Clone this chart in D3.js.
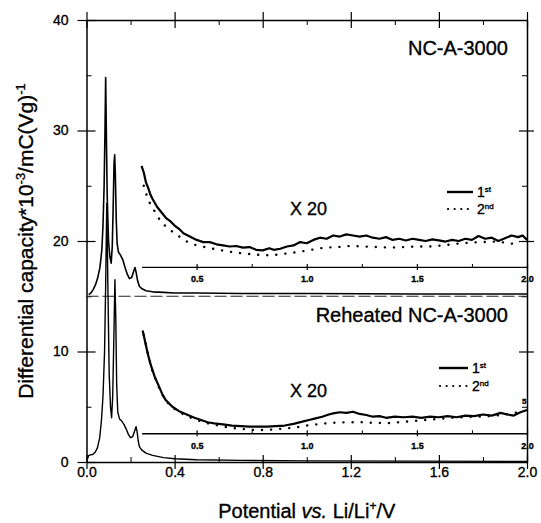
<!DOCTYPE html>
<html>
<head>
<meta charset="utf-8">
<script src="https://d3js.org/d3.v7.min.js"></script>
<style>
  body { margin: 0; background: #fff; }
  text { font-family: Arial, "Liberation Sans", sans-serif; fill: #000; stroke: #000; stroke-width: 0.35px; }
</style>
</head>
<body>
<script>
// axis ticks
const xMajor = [0, 0.4, 0.8, 1.2, 1.6, 2.0];
const xMinor = [0.2, 0.6, 1.0, 1.4, 1.8];
const yMajor = [0, 10, 20, 30, 40];
const yMinor = [5, 15, 25, 35];
const insetMajor = [0.5, 1.0, 1.5, 2.0];
const insetMinor = [0.75, 1.25, 1.75];
const panelNames = ["NC-A-3000", "Reheated NC-A-3000"];
const insetBase = [17.65, 2.6];     // where the x20 inset axes sit
const offsetLine = 15;              // dashed baseline of the shifted upper curve

// NC-A-3000, shifted up by 15
const ncX = [0.01, 0.02, 0.03, 0.04, 0.05, 0.06, 0.065, 0.07, 0.075, 0.08, 0.084, 0.087, 0.09, 0.094, 0.1, 0.106, 0.112,
  0.117, 0.121, 0.125, 0.128, 0.131, 0.135, 0.139, 0.145, 0.155, 0.165, 0.175, 0.185, 0.195, 0.205, 0.215, 0.22, 0.225,
  0.232, 0.24, 0.25, 0.27, 0.3, 0.35, 0.4, 0.5, 0.7, 1.0, 1.5, 2.0];
const ncY = [15.15, 15.3, 15.6, 16.0, 16.6, 17.5, 18.3, 19.3, 21.5, 25, 30, 34.8, 30, 24, 20, 18.6, 18.0,
  19.5, 23, 27, 27.8, 26, 22, 19.8, 19.0, 18.7, 18.3, 17.6, 17.0, 16.6, 16.7, 17.3, 17.6, 17.2,
  16.4, 15.9, 15.7, 15.5, 15.4, 15.35, 15.3, 15.3, 15.25, 15.25, 15.2, 15.2];

// Reheated NC-A-3000
const rhX = [0.005, 0.01, 0.02, 0.03, 0.04, 0.05, 0.06, 0.068, 0.075, 0.082, 0.087, 0.092, 0.097, 0.103, 0.109, 0.114,
  0.119, 0.124, 0.129, 0.133, 0.137, 0.142, 0.15, 0.16, 0.17, 0.18, 0.19, 0.2, 0.21, 0.22, 0.225, 0.23, 0.235, 0.24,
  0.25, 0.27, 0.3, 0.35, 0.4, 0.5, 0.7, 1.0, 1.5, 2.0];
const rhY = [0.3, 0.6, 0.65, 0.7, 0.9, 1.3, 2.2, 3.8, 6, 10, 16, 23.4, 16, 8, 5, 4.0,
  6, 11, 16.5, 13, 7, 4.5, 3.9, 3.7, 3.4, 3.0, 2.5, 2.2, 2.3, 2.9, 3.2, 2.7, 1.9, 1.4,
  1.1, 0.8, 0.6, 0.4, 0.3, 0.2, 0.15, 0.1, 0.08, 0.05];

// x20 insets, as plotted on the main axis
const ncIn1X = [0.25, 0.26, 0.27, 0.28, 0.29, 0.30, 0.32, 0.34, 0.36, 0.38, 0.40, 0.42, 0.44, 0.46, 0.48, 0.50, 0.53, 0.56,
  0.59, 0.62, 0.65, 0.68, 0.71, 0.74, 0.77, 0.80, 0.83, 0.85, 0.88, 0.91, 0.94, 0.97, 1.00, 1.03, 1.06, 1.09, 1.12, 1.15,
  1.18, 1.21, 1.24, 1.27, 1.30, 1.33, 1.36, 1.39, 1.42, 1.45, 1.48, 1.51, 1.54, 1.57, 1.60, 1.63, 1.66, 1.69, 1.72, 1.75,
  1.78, 1.81, 1.84, 1.87, 1.90, 1.93, 1.96, 1.98, 2.00];
const ncIn1Y = [26.8, 26.2, 25.3, 24.8, 24.2, 23.8, 23.1, 22.6, 22.1, 21.8, 21.4, 21.1, 20.7, 20.5, 20.3, 20.1, 19.9, 19.9,
  19.7, 19.6, 19.5, 19.55, 19.4, 19.45, 19.2, 19.15, 19.35, 19.2, 19.3, 19.5, 19.6, 19.9, 19.8, 20.1, 20.3, 20.2, 20.5, 20.4,
  20.6, 20.5, 20.4, 20.5, 20.3, 20.2, 20.35, 20.1, 20.2, 20.05, 20.2, 20.1, 20.0, 20.15, 20.05, 19.95, 20.1, 20.0, 20.2, 20.1,
  20.45, 20.2, 20.3, 20.0, 20.25, 20.5, 20.35, 20.5, 20.1];
const ncIn2X = [0.26, 0.28, 0.30, 0.33, 0.36, 0.40, 0.45, 0.50, 0.55, 0.60, 0.66, 0.72, 0.78, 0.84, 0.90, 0.96, 1.02, 1.08,
  1.14, 1.20, 1.26, 1.32, 1.38, 1.44, 1.50, 1.56, 1.62, 1.68, 1.74, 1.80, 1.86, 1.92, 1.97];
const ncIn2Y = [25.0, 23.7, 23.0, 22.0, 21.3, 20.7, 20.0, 19.6, 19.4, 19.2, 19.0, 18.85, 18.75, 18.7, 18.85, 19.0, 19.2, 19.4,
  19.45, 19.55, 19.5, 19.45, 19.4, 19.45, 19.5, 19.5, 19.6, 19.75, 19.85, 19.9, 19.95, 19.8, 19.65];

const rhIn1X = [0.255, 0.265, 0.277, 0.29, 0.30, 0.31, 0.33, 0.345, 0.36, 0.375, 0.39, 0.42, 0.455, 0.49, 0.52, 0.55, 0.58,
  0.62, 0.66, 0.70, 0.74, 0.78, 0.82, 0.86, 0.90, 0.94, 0.98, 1.01, 1.04, 1.07, 1.10, 1.12, 1.15, 1.18, 1.21, 1.24, 1.27,
  1.30, 1.33, 1.36, 1.40, 1.44, 1.48, 1.52, 1.56, 1.60, 1.64, 1.68, 1.72, 1.76, 1.80, 1.84, 1.88, 1.91, 1.94, 1.97, 2.00];
const rhIn1Y = [11.9, 11.0, 9.9, 8.9, 8.3, 7.7, 6.8, 6.1, 5.6, 5.3, 5.0, 4.6, 4.3, 4.0, 3.8, 3.6, 3.5,
  3.4, 3.3, 3.25, 3.2, 3.2, 3.2, 3.25, 3.3, 3.45, 3.65, 3.8, 3.95, 4.1, 4.3, 4.4, 4.5, 4.45, 4.55, 4.35, 4.25,
  4.1, 4.15, 4.0, 4.1, 4.05, 4.1, 4.0, 4.1, 4.05, 4.15, 4.05, 4.2, 4.15, 4.3, 4.2, 4.45, 4.3, 4.2, 4.5, 4.7];
const rhIn2X = [0.26, 0.28, 0.30, 0.325, 0.35, 0.375, 0.40, 0.45, 0.50, 0.55, 0.60, 0.65, 0.70, 0.76, 0.82, 0.88, 0.94,
  1.00, 1.06, 1.12, 1.18, 1.24, 1.30, 1.36, 1.42, 1.48, 1.54, 1.60, 1.66, 1.72, 1.78, 1.84, 1.90, 1.96];
const rhIn2Y = [11.5, 9.7, 8.2, 6.9, 5.9, 5.2, 4.8, 4.2, 3.8, 3.5, 3.3, 3.1, 3.0, 2.9, 2.9, 3.0, 3.1,
  3.3, 3.45, 3.55, 3.6, 3.6, 3.55, 3.5, 3.6, 3.7, 3.8, 3.9, 4.0, 4.05, 4.1, 4.15, 4.3, 4.5];

const width = 541, height = 523;
const x = d3.scaleLinear().domain([0, 2]).range([86.5, 527]);
const y = d3.scaleLinear().domain([0, 40]).range([462, 20]);

const svg = d3.select("body").append("svg")
    .attr("width", width)
    .attr("height", height);

function plain(g, size) {
  g.attr("font-family", null).attr("font-size", size);
  g.selectAll("path.domain").attr("stroke-width", 1.5);
  g.selectAll(".tick line").attr("stroke-width", 1.2);
}

// bottom
svg.append("g")
    .attr("transform", `translate(0,${y(0)})`)
    .call(d3.axisBottom(x).tickValues(xMajor).tickFormat(d3.format(".1f")).tickSizeInner(7).tickSizeOuter(0).tickPadding(-2))
    .call(g => g.selectAll(".tick line").attr("y1", -7))
    .call(g => plain(g, 14));
svg.append("g")
    .attr("transform", `translate(0,${y(0)})`)
    .call(d3.axisTop(x).tickValues(xMinor).tickFormat("").tickSizeInner(5).tickSizeOuter(0))
    .call(g => g.select(".domain").remove());

// top
svg.append("g")
    .attr("transform", `translate(0,${y(40)})`)
    .call(d3.axisTop(x).tickValues(xMajor).tickFormat("").tickSizeInner(8).tickSizeOuter(0))
    .call(g => g.selectAll(".tick line").attr("y1", 8))
    .call(g => plain(g, 14));
svg.append("g")
    .attr("transform", `translate(0,${y(40)})`)
    .call(d3.axisBottom(x).tickValues(xMinor).tickFormat("").tickSizeInner(5).tickSizeOuter(0))
    .call(g => g.select(".domain").remove());

// left
svg.append("g")
    .attr("transform", `translate(${x(0)},0)`)
    .call(d3.axisLeft(y).tickValues(yMajor).tickSizeInner(9).tickSizeOuter(0).tickPadding(9))
    .call(g => g.selectAll(".tick line").attr("x1", 9))
    .call(g => plain(g, 14));
svg.append("g")
    .attr("transform", `translate(${x(0)},0)`)
    .call(d3.axisRight(y).tickValues(yMinor).tickFormat("").tickSizeInner(5).tickSizeOuter(0))
    .call(g => g.select(".domain").remove());

// right
svg.append("g")
    .attr("transform", `translate(${x(2)},0)`)
    .call(d3.axisRight(y).tickValues(yMajor.slice(1, 4)).tickFormat("").tickSizeInner(7).tickSizeOuter(0))
    .call(g => g.selectAll(".tick line").attr("x1", -8))
    .call(g => plain(g, 14));
svg.append("g")
    .attr("transform", `translate(${x(2)},0)`)
    .call(d3.axisLeft(y).tickValues(yMinor).tickFormat("").tickSizeInner(5).tickSizeOuter(0))
    .call(g => g.select(".domain").remove());

// inset axes (x20 curves)
const xi = x.copy().domain([0.25, 2]).range([x(0.25), x(2)]);
insetBase.forEach(b => {
  svg.append("g")
      .attr("transform", `translate(0,${y(b)})`)
      .call(d3.axisBottom(xi).tickValues(insetMajor).tickFormat(d3.format(".1f")).tickSizeInner(3).tickSizeOuter(0).tickPadding(6))
      .call(g => g.selectAll(".tick line").attr("y1", -3))
      .call(g => { plain(g, 9); g.selectAll("path.domain").attr("stroke-width", 1.3); g.selectAll("text").attr("font-weight", "bold"); });
  svg.append("g")
      .attr("transform", `translate(0,${y(b)})`)
      .call(d3.axisTop(xi).tickValues(insetMinor).tickFormat("").tickSizeInner(3).tickSizeOuter(0))
      .call(g => g.select(".domain").remove());
});

// dashed offset baseline
svg.append("line")
    .attr("x1", x(0)).attr("x2", x(2))
    .attr("y1", y(offsetLine)).attr("y2", y(offsetLine))
    .attr("stroke", "#222").attr("stroke-width", 1)
    .attr("stroke-dasharray", "12,4");

const line = d3.line().x(d => x(d[0])).y(d => y(d[1]));

function curve(xs, ys, w, dotted) {
  const p = svg.append("path")
      .datum(d3.zip(xs, ys))
      .attr("fill", "none")
      .attr("stroke", "#000")
      .attr("stroke-width", w)
      .attr("stroke-linejoin", "round")
      .attr("d", line);
  if (dotted) p.attr("stroke-dasharray", "0.1 9").attr("stroke-linecap", "round");
  return p;
}

curve(ncX, ncY, 1.6);
curve(rhX, rhY, 1.4);
curve(ncIn2X, ncIn2Y, 2.4, true);
curve(ncIn1X, ncIn1Y, 2.2);
curve(rhIn2X, rhIn2Y, 2.4, true);
curve(rhIn1X, rhIn1Y, 2.2);

// panel labels
svg.append("text").attr("x", 508).attr("y", 55).attr("text-anchor", "end").attr("font-size", 20).text(panelNames[0]);
svg.append("text").attr("x", 508).attr("y", 322).attr("text-anchor", "end").attr("font-size", 20).text(panelNames[1]);
svg.append("text").attr("x", 290).attr("y", 215).attr("font-size", 18).text("X 20");
svg.append("text").attr("x", 290).attr("y", 397).attr("font-size", 18).text("X 20");

// legends
function legend(x0, x1, ySolid, yDot) {
  svg.append("line").attr("x1", x0).attr("x2", x1).attr("y1", ySolid).attr("y2", ySolid)
      .attr("stroke", "#000").attr("stroke-width", 2.4);
  svg.append("line").attr("x1", x0 + 1).attr("x2", x1).attr("y1", yDot).attr("y2", yDot)
      .attr("stroke", "#000").attr("stroke-width", 2.2)
      .attr("stroke-dasharray", "0.1 6.5").attr("stroke-linecap", "round");
  const t1 = svg.append("text").attr("x", x1 + 4).attr("y", ySolid + 5).attr("font-size", 14);
  t1.append("tspan").text("1");
  t1.append("tspan").attr("font-size", 8).attr("dy", -5).text("st");
  const t2 = svg.append("text").attr("x", x1 + 4).attr("y", yDot + 5).attr("font-size", 14);
  t2.append("tspan").text("2");
  t2.append("tspan").attr("font-size", 8).attr("dy", -5).text("nd");
}
legend(447, 473, 192, 209);
legend(439, 468, 368, 386);

// small leftover label of the lower inset's own scale
svg.append("text").attr("x", 522).attr("y", 404).attr("font-size", 8).attr("font-weight", "bold").text("5");

// axis titles
const yt = svg.append("text")
    .attr("transform", `translate(33,${(y(0) + y(40)) / 2}) rotate(-90)`)
    .attr("text-anchor", "middle")
    .attr("font-size", 21);
yt.append("tspan").text("Differential capacity*10");
yt.append("tspan").attr("font-size", 13).attr("dy", -8).text("-3");
yt.append("tspan").attr("dy", 8).text("/mC(Vg)");
yt.append("tspan").attr("font-size", 13).attr("dy", -8).text("-1");

const xt = svg.append("text")
    .attr("x", (x(0) + x(2)) / 2)
    .attr("y", 518)
    .attr("text-anchor", "middle")
    .attr("font-size", 20);
xt.append("tspan").text("Potential ");
xt.append("tspan").attr("font-style", "italic").text("vs.");
xt.append("tspan").text(" Li/Li");
xt.append("tspan").attr("font-size", 12).attr("dy", -8).text("+");
xt.append("tspan").attr("dy", 8).text("/V");
</script>
</body>
</html>
